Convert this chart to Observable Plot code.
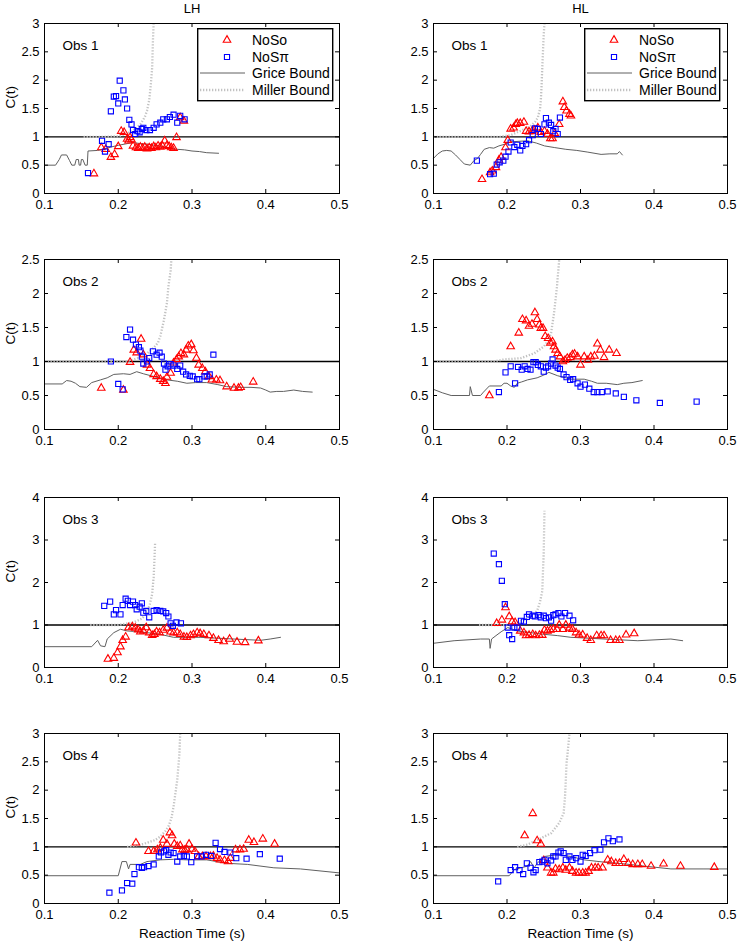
<!DOCTYPE html>
<html>
<head>
<meta charset="utf-8">
<script src="https://cdn.jsdelivr.net/npm/d3@7"></script>
<script src="https://cdn.jsdelivr.net/npm/@observablehq/plot@0.6"></script>
<style>
  body { margin: 0; background: #fff; }
  #root { position: relative; width: 737px; height: 942px; background: #fff; font-family: 'Liberation Sans', Arial, sans-serif; }
  #root svg { position: absolute; overflow: visible; }
</style>
</head>
<body>
<div id="root"></div>
<script>
// ---------- tick labels / text ----------
const xTicks = [0.1, 0.2, 0.3, 0.4, 0.5];
const yTicks3 = [0, 0.5, 1, 1.5, 2, 2.5, 3];
const yTicks25 = [0, 0.5, 1, 1.5, 2, 2.5];
const yTicks4 = [0, 1, 2, 3, 4];
const colTitles = ["LH", "HL"];
const obsLabels = ["Obs 1", "Obs 2", "Obs 3", "Obs 4"];
const legendLabels = ["NoSo", "NoS\u03c0", "Grice Bound", "Miller Bound"];
const xLabel = "Reaction Time (s)";
const yLabel = "C(t)";

// ---------- LH, Obs 1 ----------
const nosoL1 = [[0.167,0.35],[0.177,0.81],[0.183,0.78],[0.19,0.64],[0.195,0.69],[0.2,0.83],[0.204,1.1],[0.208,1.08],[0.212,0.96],[0.214,0.93],[0.216,0.99],[0.218,0.95],[0.22,0.84],[0.224,0.81],[0.227,0.8],[0.23,0.82],[0.233,0.8],[0.236,0.82],[0.239,0.79],[0.242,0.81],[0.245,0.8],[0.248,0.83],[0.251,0.81],[0.254,0.84],[0.257,0.82],[0.26,0.84],[0.263,0.93],[0.266,0.85],[0.269,0.83],[0.272,0.81],[0.275,0.8],[0.279,0.99],[0.284,1.34],[0.289,1.28]];
const nospiL1 = [[0.159,0.36],[0.178,0.93],[0.182,0.74],[0.187,0.87],[0.19,1.45],[0.194,1.71],[0.197,1.72],[0.2,1.59],[0.202,1.99],[0.207,1.82],[0.209,1.66],[0.212,1.5],[0.215,1.3],[0.218,1.22],[0.22,1.12],[0.223,1.05],[0.226,1.1],[0.229,1.08],[0.232,1.14],[0.234,1.16],[0.238,1.12],[0.243,1.12],[0.248,1.16],[0.252,1.22],[0.257,1.25],[0.261,1.31],[0.266,1.31],[0.27,1.35],[0.275,1.39],[0.28,1.25],[0.284,1.37],[0.29,1.31]];
const griceL1 = [[0.1,0.5],[0.115,0.5],[0.12,0.6],[0.123,0.68],[0.13,0.68],[0.134,0.58],[0.137,0.5],[0.141,0.5],[0.143,0.6],[0.146,0.6],[0.147,0.5],[0.149,0.5],[0.15,0.6],[0.152,0.6],[0.155,0.5],[0.158,0.5],[0.159,0.75],[0.172,0.76],[0.18,0.78],[0.19,0.82],[0.2,0.85],[0.212,0.88],[0.22,0.9],[0.23,0.88],[0.24,0.87],[0.25,0.85],[0.26,0.83],[0.27,0.8],[0.28,0.78],[0.29,0.77],[0.3,0.75],[0.31,0.74],[0.32,0.72],[0.336,0.71]];
const millerL1 = [[0.153,1.0],[0.18,1.0],[0.2,1.01],[0.212,1.06],[0.222,1.13],[0.23,1.22],[0.236,1.35],[0.239,1.46],[0.242,1.65],[0.244,1.9],[0.246,2.22],[0.247,2.69],[0.248,3.0]];

// ---------- HL, Obs 1 ----------
const nosoR1 = [[0.166,0.25],[0.177,0.37],[0.18,0.4],[0.185,0.46],[0.189,0.59],[0.192,0.64],[0.198,0.81],[0.201,0.94],[0.205,1.14],[0.209,1.16],[0.212,1.22],[0.214,1.24],[0.218,1.24],[0.223,1.26],[0.226,1.1],[0.23,1.09],[0.234,1.1],[0.237,1.12],[0.242,1.16],[0.246,1.08],[0.251,1.1],[0.255,1.05],[0.259,0.97],[0.262,0.97],[0.265,1.06],[0.271,1.22],[0.276,1.62],[0.278,1.52],[0.281,1.46],[0.285,1.4],[0.287,1.37]];
const nospiR1 = [[0.159,0.58],[0.177,0.34],[0.182,0.35],[0.186,0.51],[0.19,0.55],[0.195,0.58],[0.198,0.65],[0.202,0.74],[0.205,0.9],[0.21,0.82],[0.214,0.86],[0.218,0.76],[0.221,0.84],[0.226,0.87],[0.23,0.94],[0.235,1.03],[0.238,1.15],[0.242,1.14],[0.246,1.05],[0.251,1.22],[0.253,1.33],[0.257,1.25],[0.26,1.21],[0.263,1.1],[0.266,1.14],[0.269,1.05],[0.272,1.34]];
const griceR1 = [[0.1,0.62],[0.106,0.7],[0.112,0.75],[0.118,0.76],[0.124,0.75],[0.13,0.68],[0.136,0.6],[0.142,0.52],[0.15,0.5],[0.155,0.58],[0.16,0.62],[0.164,0.69],[0.169,0.78],[0.176,0.81],[0.182,0.8],[0.189,0.84],[0.197,0.87],[0.205,0.91],[0.215,0.92],[0.228,0.93],[0.24,0.89],[0.251,0.84],[0.265,0.81],[0.28,0.78],[0.295,0.76],[0.31,0.73],[0.328,0.69],[0.34,0.7],[0.35,0.7],[0.353,0.74],[0.357,0.68]];
const millerR1 = [[0.1,1.0],[0.19,1.0],[0.205,1.03],[0.214,1.08],[0.225,1.14],[0.232,1.19],[0.238,1.26],[0.242,1.34],[0.245,1.5],[0.246,1.64],[0.247,1.9],[0.248,2.22],[0.25,2.81],[0.251,3.0]];

// ---------- LH, Obs 2 ----------
const nosoL2 = [[0.177,0.61],[0.207,0.58],[0.216,0.99],[0.221,1.17],[0.225,1.13],[0.231,1.33],[0.234,1.1],[0.239,0.95],[0.243,0.9],[0.248,0.81],[0.252,0.78],[0.257,0.74],[0.261,0.71],[0.264,0.68],[0.266,0.77],[0.271,0.83],[0.275,0.98],[0.279,1.03],[0.282,1.07],[0.285,1.12],[0.289,1.1],[0.292,1.17],[0.295,1.23],[0.299,1.25],[0.302,1.16],[0.306,1.05],[0.309,0.95],[0.314,0.9],[0.318,0.85],[0.323,0.78],[0.327,0.73],[0.333,0.73],[0.338,0.72],[0.347,0.63],[0.357,0.61],[0.363,0.61],[0.366,0.62],[0.383,0.7]];
const nospiL2 = [[0.19,1.0],[0.2,0.67],[0.206,0.59],[0.211,1.36],[0.216,1.47],[0.22,1.32],[0.224,1.25],[0.228,1.21],[0.23,1.16],[0.232,1.07],[0.234,0.97],[0.239,1.0],[0.242,1.05],[0.247,1.15],[0.252,1.1],[0.256,1.13],[0.259,1.07],[0.262,0.97],[0.264,0.88],[0.267,0.93],[0.271,0.96],[0.275,0.94],[0.28,0.89],[0.284,0.94],[0.288,0.85],[0.292,0.81],[0.297,0.79],[0.301,0.78],[0.307,0.74],[0.31,0.74],[0.317,0.78],[0.32,0.78],[0.324,0.81],[0.329,1.1]];
const griceL2 = [[0.1,0.67],[0.124,0.67],[0.13,0.72],[0.136,0.71],[0.142,0.68],[0.148,0.63],[0.157,0.62],[0.164,0.69],[0.176,0.73],[0.185,0.76],[0.194,0.81],[0.207,0.82],[0.216,0.81],[0.225,0.85],[0.234,0.82],[0.248,0.78],[0.266,0.73],[0.28,0.71],[0.293,0.68],[0.305,0.69],[0.32,0.69],[0.335,0.66],[0.347,0.63],[0.366,0.62],[0.38,0.62],[0.393,0.61],[0.4,0.58],[0.406,0.55],[0.415,0.56],[0.424,0.56],[0.438,0.58],[0.45,0.56],[0.463,0.55]];
const millerL2 = [[0.1,1.0],[0.21,1.0],[0.221,1.03],[0.232,1.07],[0.239,1.12],[0.248,1.2],[0.254,1.28],[0.257,1.37],[0.262,1.61],[0.266,1.86],[0.268,2.1],[0.271,2.34],[0.272,2.5]];

// ---------- HL, Obs 2 ----------
const nosoR2 = [[0.176,0.5],[0.205,1.22],[0.216,1.42],[0.221,1.62],[0.226,1.6],[0.23,1.52],[0.234,1.55],[0.238,1.72],[0.241,1.62],[0.244,1.54],[0.246,1.49],[0.249,1.49],[0.252,1.37],[0.256,1.34],[0.259,1.27],[0.262,1.29],[0.264,1.22],[0.266,1.17],[0.269,1.12],[0.272,1.07],[0.276,1.0],[0.279,1.02],[0.282,1.05],[0.286,1.06],[0.289,1.1],[0.292,1.11],[0.296,1.07],[0.3,0.95],[0.305,1.07],[0.31,1.02],[0.314,1.07],[0.319,1.08],[0.323,1.26],[0.327,1.17],[0.332,1.06],[0.339,1.17],[0.349,1.12]];
const nospiR2 = [[0.189,0.55],[0.198,0.84],[0.205,0.93],[0.211,0.68],[0.215,0.92],[0.22,0.88],[0.224,0.93],[0.228,0.89],[0.232,0.88],[0.236,0.99],[0.239,0.99],[0.242,0.95],[0.246,0.93],[0.25,0.85],[0.253,0.91],[0.256,0.93],[0.26,0.97],[0.262,1.03],[0.266,0.94],[0.269,0.91],[0.272,0.89],[0.277,0.81],[0.281,0.77],[0.286,0.73],[0.29,0.74],[0.296,0.68],[0.3,0.63],[0.306,0.66],[0.312,0.6],[0.318,0.55],[0.323,0.55],[0.329,0.55],[0.337,0.56],[0.348,0.53],[0.359,0.48],[0.376,0.43],[0.408,0.39],[0.458,0.41]];
const griceR2 = [[0.1,0.59],[0.112,0.54],[0.124,0.5],[0.149,0.5],[0.15,0.63],[0.153,0.5],[0.164,0.5],[0.168,0.55],[0.176,0.64],[0.192,0.64],[0.196,0.68],[0.2,0.68],[0.205,0.64],[0.21,0.62],[0.214,0.68],[0.22,0.7],[0.228,0.73],[0.241,0.76],[0.25,0.8],[0.257,0.84],[0.269,0.79],[0.28,0.76],[0.287,0.74],[0.305,0.74],[0.315,0.71],[0.323,0.68],[0.335,0.68],[0.35,0.66],[0.359,0.68],[0.37,0.69],[0.384,0.72]];
const millerR2 = [[0.1,1.0],[0.18,1.0],[0.196,1.03],[0.219,1.05],[0.237,1.12],[0.25,1.22],[0.256,1.3],[0.26,1.42],[0.264,1.71],[0.268,2.1],[0.271,2.5]];

// ---------- LH, Obs 3 ----------
const nosoL3 = [[0.186,0.2],[0.194,0.22],[0.199,0.35],[0.203,0.49],[0.206,0.64],[0.21,0.72],[0.214,0.94],[0.219,0.96],[0.223,0.93],[0.227,0.89],[0.23,0.84],[0.234,0.86],[0.238,0.94],[0.242,0.82],[0.246,0.76],[0.249,0.78],[0.252,0.84],[0.256,0.82],[0.261,0.88],[0.266,0.93],[0.271,0.84],[0.275,0.82],[0.28,0.82],[0.284,0.78],[0.289,0.72],[0.293,0.71],[0.298,0.75],[0.302,0.78],[0.307,0.82],[0.311,0.8],[0.316,0.78],[0.323,0.75],[0.329,0.69],[0.336,0.64],[0.343,0.61],[0.351,0.67],[0.361,0.6],[0.372,0.59],[0.39,0.63]];
const nospiL3 = [[0.181,1.45],[0.189,1.55],[0.194,1.25],[0.197,1.35],[0.203,1.25],[0.206,1.47],[0.21,1.62],[0.213,1.57],[0.216,1.47],[0.22,1.55],[0.223,1.47],[0.225,1.37],[0.229,1.43],[0.232,1.51],[0.234,1.29],[0.238,1.33],[0.242,1.18],[0.248,1.33],[0.252,1.35],[0.257,1.33],[0.261,1.32],[0.265,1.28],[0.268,1.2],[0.271,1.04],[0.274,0.98],[0.279,1.06],[0.285,1.04]];
const griceL3 = [[0.1,0.49],[0.164,0.49],[0.172,0.64],[0.176,0.51],[0.182,0.49],[0.185,0.67],[0.194,0.82],[0.203,0.9],[0.212,0.86],[0.221,0.85],[0.239,0.82],[0.257,0.78],[0.275,0.71],[0.311,0.71],[0.357,0.67],[0.393,0.64],[0.406,0.67],[0.42,0.71]];
const millerL3 = [[0.162,1.0],[0.2,1.0],[0.221,1.06],[0.232,1.15],[0.239,1.29],[0.243,1.5],[0.246,1.73],[0.248,2.12],[0.249,2.5],[0.25,2.94]];

// ---------- HL, Obs 3 ----------
const nosoR3 = [[0.186,1.04],[0.193,1.12],[0.198,1.41],[0.203,1.2],[0.207,1.08],[0.211,1.06],[0.218,0.86],[0.223,0.82],[0.226,0.75],[0.23,0.76],[0.235,0.78],[0.239,0.75],[0.244,0.76],[0.248,0.76],[0.251,0.88],[0.255,0.86],[0.259,0.88],[0.263,0.9],[0.268,0.9],[0.271,1.0],[0.276,0.9],[0.28,1.0],[0.285,0.93],[0.289,0.9],[0.294,0.82],[0.298,0.77],[0.303,0.77],[0.309,0.69],[0.314,0.64],[0.322,0.75],[0.328,0.75],[0.332,0.75],[0.341,0.64],[0.348,0.64],[0.353,0.64],[0.362,0.77],[0.373,0.8]];
const nospiR3 = [[0.182,2.68],[0.189,2.43],[0.193,2.04],[0.197,1.49],[0.201,0.94],[0.203,0.76],[0.207,0.67],[0.21,0.94],[0.214,0.94],[0.219,1.1],[0.223,1.08],[0.227,1.19],[0.23,1.25],[0.235,1.22],[0.238,1.2],[0.243,1.23],[0.246,1.18],[0.25,1.22],[0.253,1.16],[0.257,1.18],[0.26,1.1],[0.263,1.23],[0.266,1.25],[0.27,1.28],[0.274,1.2],[0.279,1.28],[0.285,1.22],[0.29,1.11]];
const griceR3 = [[0.1,0.57],[0.128,0.63],[0.164,0.67],[0.176,0.67],[0.177,0.45],[0.179,0.67],[0.185,0.75],[0.192,0.84],[0.201,0.94],[0.214,0.86],[0.232,0.82],[0.251,0.78],[0.269,0.75],[0.287,0.71],[0.332,0.67],[0.378,0.63],[0.423,0.67],[0.439,0.63]];
const millerR3 = [[0.162,1.0],[0.2,1.0],[0.228,1.14],[0.236,1.24],[0.241,1.33],[0.245,1.55],[0.248,1.8],[0.25,2.75],[0.251,3.69]];

// ---------- LH, Obs 4 ----------
const nosoL4 = [[0.224,1.07],[0.241,0.92],[0.248,0.92],[0.253,0.95],[0.257,0.98],[0.261,1.12],[0.266,1.05],[0.27,1.25],[0.273,1.2],[0.276,1.05],[0.28,1.01],[0.284,1.02],[0.287,0.95],[0.29,0.94],[0.293,0.95],[0.296,1.05],[0.3,0.96],[0.304,0.92],[0.309,0.83],[0.314,0.83],[0.319,0.83],[0.325,0.83],[0.329,0.84],[0.334,0.8],[0.338,0.77],[0.344,0.76],[0.349,0.74],[0.352,0.8],[0.359,0.95],[0.365,0.95],[0.37,0.96],[0.377,1.12],[0.384,1.08],[0.396,1.14],[0.412,1.05]];
const nospiL4 = [[0.188,0.19],[0.205,0.23],[0.212,0.36],[0.219,0.35],[0.222,0.52],[0.228,0.64],[0.232,0.63],[0.235,0.64],[0.241,0.66],[0.248,0.69],[0.255,0.83],[0.258,0.9],[0.262,0.92],[0.265,0.94],[0.268,0.86],[0.271,0.9],[0.275,0.89],[0.28,0.74],[0.284,0.83],[0.289,0.84],[0.293,0.83],[0.299,0.73],[0.307,0.83],[0.313,0.83],[0.319,0.86],[0.326,0.84],[0.332,1.07],[0.338,0.96],[0.344,0.91],[0.352,0.9],[0.36,0.8],[0.374,0.79],[0.392,0.87],[0.419,0.79]];
const griceL4 = [[0.1,0.49],[0.2,0.49],[0.205,0.74],[0.211,0.74],[0.214,0.61],[0.216,0.69],[0.23,0.69],[0.239,0.74],[0.257,0.77],[0.275,0.78],[0.293,0.77],[0.32,0.77],[0.347,0.71],[0.375,0.69],[0.411,0.63],[0.447,0.61],[0.5,0.54]];
const millerL4 = [[0.212,1.0],[0.234,1.05],[0.25,1.12],[0.257,1.18],[0.264,1.28],[0.268,1.36],[0.272,1.5],[0.275,1.71],[0.28,2.18],[0.283,2.65],[0.284,3.0]];

// ---------- HL, Obs 4 ----------
const nosoR4 = [[0.224,1.2],[0.235,1.59],[0.241,1.11],[0.246,1.05],[0.25,0.76],[0.255,0.63],[0.26,0.54],[0.263,0.54],[0.266,0.61],[0.271,0.6],[0.276,0.63],[0.28,0.59],[0.285,0.63],[0.289,0.57],[0.294,0.54],[0.298,0.54],[0.303,0.54],[0.307,0.54],[0.311,0.57],[0.315,0.63],[0.32,0.63],[0.324,0.63],[0.33,0.63],[0.337,0.77],[0.342,0.74],[0.348,0.71],[0.353,0.71],[0.359,0.78],[0.365,0.71],[0.371,0.69],[0.378,0.69],[0.384,0.69],[0.396,0.66],[0.413,0.7],[0.436,0.66],[0.482,0.64]];
const nospiR4 = [[0.188,0.39],[0.205,0.59],[0.211,0.64],[0.217,0.59],[0.222,0.52],[0.227,0.71],[0.232,0.63],[0.236,0.55],[0.239,0.59],[0.244,0.73],[0.248,0.74],[0.251,0.77],[0.255,0.71],[0.26,0.76],[0.263,0.83],[0.266,0.83],[0.27,0.9],[0.273,0.92],[0.277,0.89],[0.28,0.77],[0.285,0.83],[0.289,0.77],[0.294,0.8],[0.3,0.74],[0.303,0.86],[0.307,0.84],[0.313,0.89],[0.319,0.94],[0.327,0.95],[0.332,1.08],[0.338,1.15],[0.344,1.1],[0.353,1.13]];
const griceR4 = [[0.1,0.49],[0.203,0.49],[0.21,0.6],[0.219,0.63],[0.228,0.66],[0.232,0.74],[0.237,0.63],[0.241,0.71],[0.251,0.83],[0.269,0.86],[0.287,0.83],[0.305,0.77],[0.332,0.73],[0.359,0.7],[0.387,0.66],[0.423,0.61],[0.468,0.61],[0.5,0.61]];
const millerR4 = [[0.214,1.0],[0.228,1.04],[0.241,1.12],[0.26,1.24],[0.271,1.42],[0.277,1.59],[0.279,1.89],[0.281,2.47],[0.285,3.0]];

// ---------- assemble ----------
const panels = [
  {row:0, col:0, noso:nosoL1, nospi:nospiL1, grice:griceL1, miller:millerL1, yTicks:yTicks3},
  {row:0, col:1, noso:nosoR1, nospi:nospiR1, grice:griceR1, miller:millerR1, yTicks:yTicks3},
  {row:1, col:0, noso:nosoL2, nospi:nospiL2, grice:griceL2, miller:millerL2, yTicks:yTicks25},
  {row:1, col:1, noso:nosoR2, nospi:nospiR2, grice:griceR2, miller:millerR2, yTicks:yTicks25},
  {row:2, col:0, noso:nosoL3, nospi:nospiL3, grice:griceL3, miller:millerL3, yTicks:yTicks4},
  {row:2, col:1, noso:nosoR3, nospi:nospiR3, grice:griceR3, miller:millerR3, yTicks:yTicks4},
  {row:3, col:0, noso:nosoL4, nospi:nospiL4, grice:griceL4, miller:millerL4, yTicks:yTicks3},
  {row:3, col:1, noso:nosoR4, nospi:nospiR4, grice:griceR4, miller:millerR4, yTicks:yTicks3}
];

const RED = "#ff0000", BLUE = "#0000ff", GRICE = "#606060", MILLER = "#c2c2c2";
const MILLER_DASH = "1.3,1.7", MILLER_W = 2.3;
const TRI_R = 2.8, SQ_R = 2.9;
const FONT = "'Liberation Sans', Arial, sans-serif";
const FH = 170;
const rowTop = [0, 229, 467, 703];
const rowMT = [23, 30, 30, 30];
const rowMB = [30, 30, 30, 39];
const colLeft = [0, 368];
const colW = [368, 369];
const colML = [44, 65];
const colMR = [29, 10];
const fmt = d => String(d);
const root = document.getElementById("root");

for (const p of panels) {
  const W = colW[p.col], ML = colML[p.col], MR = colMR[p.col];
  const FW = W - ML - MR;
  const MT = rowMT[p.row], MB = rowMB[p.row];
  const H = MT + FH + MB;
  const yMax = p.yTicks[p.yTicks.length - 1];
  const marks = [
    Plot.ruleY([1], {stroke: "black", strokeWidth: 1.3}),
    Plot.line(p.grice, {x: d => d[0], y: d => d[1], stroke: GRICE, strokeWidth: 1}),
    Plot.line(p.miller, {x: d => d[0], y: d => d[1], stroke: MILLER, strokeWidth: MILLER_W, strokeDasharray: MILLER_DASH, strokeLinecap: "butt"}),
    Plot.dot(p.noso, {x: d => d[0], y: d => d[1], symbol: "triangle", r: TRI_R, stroke: RED, fill: "none", strokeWidth: 1.1}),
    Plot.dot(p.nospi, {x: d => d[0], y: d => d[1], symbol: "square", r: SQ_R, stroke: BLUE, fill: "none", strokeWidth: 1.1}),
    Plot.frame({stroke: "black", strokeWidth: 1}),
    Plot.tickX(xTicks, {x: d => d, insetTop: FH - 4, stroke: "black"}),
    Plot.tickX(xTicks, {x: d => d, insetBottom: FH - 4, stroke: "black"}),
    Plot.tickY(p.yTicks, {y: d => d, insetRight: FW - 4, stroke: "black"}),
    Plot.tickY(p.yTicks, {y: d => d, insetLeft: FW - 4, stroke: "black"}),
    Plot.axisX(xTicks, {tickSize: 0, tickPadding: 6, tickFormat: fmt, fontSize: 13, label: null}),
    Plot.axisY(p.yTicks, {tickSize: 0, tickPadding: 5, tickFormat: fmt, fontSize: 13, label: null}),
    Plot.text([obsLabels[p.row]], {text: d => d, frameAnchor: "top-left", dx: 18, dy: 22, textAnchor: "start", lineAnchor: "middle", fontSize: 13.5})
  ];
  if (p.row === 0) marks.push(Plot.text([colTitles[p.col]], {text: d => d, frameAnchor: "top", dy: -15, lineAnchor: "middle", fontSize: 13}));
  if (p.row === 3) marks.push(Plot.text([xLabel], {text: d => d, frameAnchor: "bottom", dy: 30, lineAnchor: "middle", fontSize: 13.5}));
  if (p.col === 0) marks.push(Plot.text([yLabel], {text: d => d, frameAnchor: "left", dx: -34, rotate: -90, lineAnchor: "middle", fontSize: 13.5}));

  const svg = Plot.plot({
    width: W, height: H,
    marginLeft: ML, marginRight: MR, marginTop: MT, marginBottom: MB,
    x: {domain: [0.1, 0.5], axis: null},
    y: {domain: [0, yMax], axis: null},
    style: {fontFamily: FONT, fontSize: "13px", color: "black", background: "transparent", overflow: "visible"},
    marks
  });
  svg.style.left = colLeft[p.col] + "px";
  svg.style.top = rowTop[p.row] + "px";
  root.appendChild(svg);
}

// ---------- legends (row 1 panels) ----------
const legendPos = [[197, 28], [584, 28]];
const LW = 135, LH = 72;
const legendRowsY = [12, 29, 45, 62];
for (const [lx, ly] of legendPos) {
  const svg = d3.create("svg").attr("width", LW + 2).attr("height", LH + 2)
    .style("left", lx + "px").style("top", ly + "px");
  svg.append("rect").attr("x", 0.7).attr("y", 0.7).attr("width", LW).attr("height", LH)
    .attr("fill", "white").attr("stroke", "black").attr("stroke-width", 1.4);
  svg.append("path").attr("d", d3.symbol(d3.symbolTriangle, Math.PI * TRI_R * TRI_R)())
    .attr("transform", `translate(30,${legendRowsY[0]})`).attr("fill", "none").attr("stroke", RED).attr("stroke-width", 1.1);
  svg.append("path").attr("d", d3.symbol(d3.symbolSquare, Math.PI * SQ_R * SQ_R)())
    .attr("transform", `translate(30,${legendRowsY[1]})`).attr("fill", "none").attr("stroke", BLUE).attr("stroke-width", 1.1);
  svg.append("line").attr("x1", 3).attr("x2", 48).attr("y1", legendRowsY[2]).attr("y2", legendRowsY[2])
    .attr("stroke", GRICE).attr("stroke-width", 1);
  svg.append("line").attr("x1", 3).attr("x2", 48).attr("y1", legendRowsY[3]).attr("y2", legendRowsY[3])
    .attr("stroke", MILLER).attr("stroke-width", MILLER_W).attr("stroke-dasharray", MILLER_DASH);
  legendLabels.forEach((t, i) => {
    svg.append("text").attr("x", 55).attr("y", legendRowsY[i]).attr("dy", "0.35em")
      .attr("font-family", FONT).attr("font-size", 14).attr("fill", "black").text(t);
  });
  root.appendChild(svg.node());
}
</script>
</body>
</html>
